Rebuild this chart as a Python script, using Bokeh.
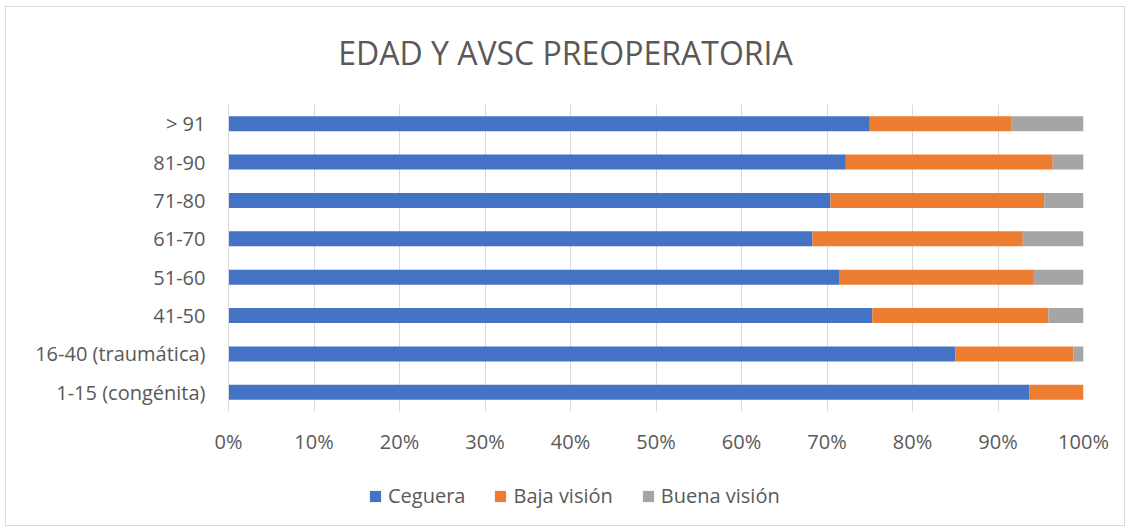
from bokeh.plotting import figure
from bokeh.layouts import column
from bokeh.models import Legend, LegendItem, FixedTicker, Range1d, FactorRange
from bokeh.core.properties import value
from bokeh.embed import file_html
from bokeh.resources import INLINE

categories = ["1-15 (congénita)", "16-40 (traumática)", "41-50", "51-60",
              "61-70", "71-80", "81-90", "> 91"]
ceguera = [93.7, 85.0, 75.3, 71.4, 68.3, 70.4, 72.2, 75.0]
baja = [6.3, 13.8, 20.6, 22.8, 24.6, 25.0, 24.2, 16.6]
buena = [0.0, 1.2, 4.1, 5.8, 7.1, 4.6, 3.6, 8.4]
series = ["Ceguera", "Baja visión", "Buena visión"]
colors = ["#4472C4", "#ED7D31", "#A5A5A5"]
x_ticks = [0, 10, 20, 30, 40, 50, 60, 70, 80, 90, 100]
x_tick_labels = ["0%", "10%", "20%", "30%", "40%", "50%", "60%", "70%", "80%", "90%", "100%"]
title_text = "EDAD Y AVSC PREOPERATORIA"

FONT = "Open Sans"
TXT = "#595959"
W = 1118


def strip(height):
    s = figure(width=W, height=height, output_backend="svg", toolbar_location=None,
               x_range=Range1d(0, 855), y_range=Range1d(0, height),
               x_axis_location=None, y_axis_location=None, min_border=0)
    s.outline_line_color = None
    s.grid.visible = False
    s.background_fill_color = "white"
    s.border_fill_color = "white"
    return s


# title strip (its frame is aligned with the main plot's frame by the column layout)
p0 = strip(80)
p0.text(x=[337], y=[35], text=[title_text], text_align="center", text_baseline="middle",
        text_font=value(FONT), text_font_size=value("32px"), text_color=TXT)

# main chart
p = figure(width=W, height=375, output_backend="svg", toolbar_location=None,
           y_range=FactorRange(factors=categories), x_range=Range1d(0, 100),
           min_border_left=222, min_border_right=41, min_border_top=17, min_border_bottom=51)
p.outline_line_color = None
p.background_fill_color = "white"
p.border_fill_color = "white"

src = dict(cat=categories)
src[series[0]] = ceguera
src[series[1]] = baja
src[series[2]] = buena
renderers = p.hbar_stack(series, y="cat", height=0.39, color=colors, source=src, line_color=None)

p.xaxis.ticker = FixedTicker(ticks=x_ticks)
p.xaxis.major_label_overrides = {t: l for t, l in zip(x_ticks, x_tick_labels)}
p.xaxis.axis_line_color = None
p.xaxis.major_tick_line_color = None
p.xaxis.minor_tick_line_color = None
p.xaxis.major_label_standoff = 10
p.xaxis.major_label_text_font_size = "20px"
p.xaxis.major_label_text_color = TXT
p.xaxis.major_label_text_font = FONT

p.yaxis.axis_line_color = "#d9d9d9"
p.yaxis.axis_line_width = 1
p.yaxis.major_tick_line_color = None
p.yaxis.minor_tick_line_color = None
p.yaxis.major_label_standoff = 17
p.yaxis.major_label_text_font_size = "20px"
p.yaxis.major_label_text_color = TXT
p.yaxis.major_label_text_font = FONT

p.xgrid.grid_line_color = "#d9d9d9"
p.xgrid.grid_line_width = 1
p.ygrid.grid_line_color = None

# legend strip
p2 = strip(63)
# swatch renderers kept outside the visible range; they only feed the legend glyphs
dummies = [p2.hbar(y=[-100], left=[0], right=[1], height=1, color=c, line_color=None)
           for c in colors]
legend = Legend(items=[LegendItem(label=s, renderers=[r]) for s, r in zip(series, dummies)],
                orientation="horizontal", location=(140, 16),
                glyph_width=14, glyph_height=14, label_standoff=6, spacing=28,
                padding=0, margin=0, border_line_color=None, background_fill_alpha=0,
                label_text_font_size="20px", label_text_color=TXT, label_text_font=FONT)
p2.add_layout(legend)

layout = column(p0, p, p2, spacing=0)
layout.styles = {"outline": "1px solid #d9d9d9", "outline-offset": "0px",
                 "margin-left": "6px", "margin-top": "7px"}

open("out.html", "w").write(file_html(layout, INLINE))
